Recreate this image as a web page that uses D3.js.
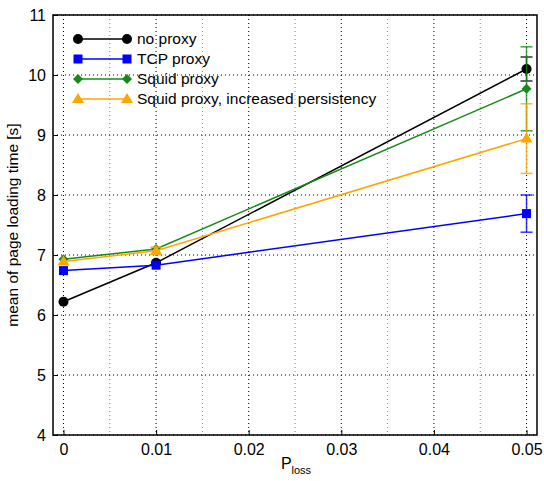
<!DOCTYPE html>
<meta charset="utf-8">
<style>
body { margin: 0; background: #fff; }
text { font-family: "Liberation Sans", Arial, sans-serif; }
.grid line { stroke: #000; stroke-dasharray: 1,3; stroke-width: 1; }
.grid .minor { stroke: #888; }
</style>
<body>
<script src="https://d3js.org/d3.v7.min.js"></script>
<script>
// data
var ploss = [0, 0.01, 0.05];
var seriesNames = ["no proxy", "TCP proxy", "Squid proxy", "Squid proxy, increased persistency"];
var noProxy = [6.22, 6.87, 10.1];
var tcpProxy = [6.74, 6.83, 7.69];
var squidProxy = [6.93, 7.1, 9.77];
var squidPersist = [6.89, 7.07, 8.94];
// error bar half-widths
var noProxyErr = [0, 0, 0.2];
var tcpProxyErr = [0, 0, 0.31];
var squidProxyErr = [0, 0, 0.7];
var squidPersistErr = [0, 0.06, 0.58];
var xTicks = [0, 0.01, 0.02, 0.03, 0.04, 0.05];
var xMinor = [0.005, 0.015, 0.025, 0.035, 0.045];
var yTicks = [4, 5, 6, 7, 8, 9, 10, 11];

var series = [
  {name: seriesNames[0], vals: noProxy, err: noProxyErr, color: "#000000", marker: "circle"},
  {name: seriesNames[1], vals: tcpProxy, err: tcpProxyErr, color: "#0000ff", marker: "square"},
  {name: seriesNames[2], vals: squidProxy, err: squidProxyErr, color: "#168a16", marker: "diamond"},
  {name: seriesNames[3], vals: squidPersist, err: squidPersistErr, color: "#ffa500", marker: "triangle"}
];

var W = 544, H = 481;
var pLeft = 53, pRight = 537, pTop = 15, pBottom = 435;

var x = d3.scaleLinear().domain([-0.00113, 0.05113]).range([pLeft, pRight]);
var y = d3.scaleLinear().domain([4, 11]).range([pBottom, pTop]);

var svg = d3.select("body").append("svg")
    .attr("width", W)
    .attr("height", H);

// grid
var grid = svg.append("g").attr("class", "grid");
grid.selectAll(".vmaj").data(xTicks).enter().append("line")
    .attr("x1", function(d) { return x(d); }).attr("x2", function(d) { return x(d); })
    .attr("y1", pTop).attr("y2", pBottom);
grid.selectAll(".vmin").data(xMinor).enter().append("line")
    .attr("class", "minor")
    .attr("x1", function(d) { return x(d); }).attr("x2", function(d) { return x(d); })
    .attr("y1", pTop).attr("y2", pBottom);
grid.selectAll(".h").data(yTicks).enter().append("line")
    .attr("x1", pLeft).attr("x2", pRight)
    .attr("y1", function(d) { return y(d); }).attr("y2", function(d) { return y(d); });

// axes (ticks inside, MATLAB style)
var xAxis = svg.append("g")
    .attr("transform", "translate(0," + pBottom + ")")
    .call(d3.axisBottom(x).tickValues(xTicks).tickSizeInner(-5).tickSizeOuter(0)
      .tickFormat(function(d) { return d === 0 ? "0" : d3.format(".2f")(d); }));
var yAxis = svg.append("g")
    .attr("transform", "translate(" + pLeft + ",0)")
    .call(d3.axisLeft(y).tickValues(yTicks).tickSizeInner(-5).tickSizeOuter(0)
      .tickFormat(d3.format("d")));
[xAxis, yAxis].forEach(function(a) {
  a.select(".domain").remove();
  a.selectAll("text").attr("font-size", 16).attr("fill", "#000")
    .style("font-family", "Liberation Sans, Arial, sans-serif");
});
xAxis.selectAll("text").attr("dy", "0.71em").attr("y", 9);
yAxis.selectAll("text").attr("x", -7);

// frame
svg.append("rect")
    .attr("x", pLeft).attr("y", pTop)
    .attr("width", pRight - pLeft).attr("height", pBottom - pTop)
    .attr("fill", "none").attr("stroke", "#000").attr("stroke-width", 1.5);

// axis labels
var xl = svg.append("text")
    .attr("x", 296).attr("y", 469)
    .attr("text-anchor", "middle").attr("font-size", 16);
xl.append("tspan").text("P");
xl.append("tspan").attr("font-size", 11).attr("dy", 5).text("loss");

svg.append("text")
    .attr("transform", "translate(18," + ((pTop + pBottom) / 2) + ") rotate(-90)")
    .attr("text-anchor", "middle").attr("font-size", 15.5)
    .text("mean of page loading time [s]");

function drawMarker(g, type, cx, cy, color) {
  if (type === "circle") {
    g.append("circle").attr("cx", cx).attr("cy", cy).attr("r", 5).attr("fill", color);
  } else if (type === "square") {
    g.append("rect").attr("x", cx - 4.5).attr("y", cy - 4.5).attr("width", 9).attr("height", 9).attr("fill", color);
  } else if (type === "diamond") {
    g.append("path").attr("d", "M" + cx + "," + (cy - 5) + "L" + (cx + 5) + "," + cy + "L" + cx + "," + (cy + 5) + "L" + (cx - 5) + "," + cy + "Z").attr("fill", color);
  } else {
    g.append("path").attr("d", "M" + cx + "," + (cy - 6) + "L" + (cx + 6) + "," + (cy + 4) + "L" + (cx - 6) + "," + (cy + 4) + "Z").attr("fill", color);
  }
}

var line = d3.line()
    .x(function(d, i) { return x(ploss[i]); })
    .y(function(d) { return y(d); });

series.forEach(function(s) {
  var g = svg.append("g");
  // error bars
  s.vals.forEach(function(v, i) {
    if (!s.err[i]) return;
    var cx = x(ploss[i]);
    var eb = g.append("g").attr("stroke", s.color).attr("stroke-width", 1.5).attr("opacity", 0.8);
    eb.append("line").attr("x1", cx).attr("x2", cx).attr("y1", y(v - s.err[i])).attr("y2", y(v + s.err[i]));
    [v - s.err[i], v + s.err[i]].forEach(function(e) {
      eb.append("line").attr("x1", cx - 6).attr("x2", cx + 6).attr("y1", y(e)).attr("y2", y(e));
    });
  });
  g.append("path").datum(s.vals)
    .attr("d", line).attr("fill", "none")
    .attr("stroke", s.color).attr("stroke-width", 1.5);
  s.vals.forEach(function(v, i) {
    drawMarker(g, s.marker, x(ploss[i]), y(v), s.color);
  });
});

// legend
var lg = svg.append("g");
series.forEach(function(s, i) {
  var ly = 39 + i * 20;
  lg.append("line").attr("x1", 78).attr("x2", 127).attr("y1", ly).attr("y2", ly)
    .attr("stroke", s.color).attr("stroke-width", 1.5);
  drawMarker(lg, s.marker, 78, ly, s.color);
  drawMarker(lg, s.marker, 127, ly, s.color);
  lg.append("text").attr("x", 137).attr("y", ly + 5).attr("font-size", 15.5).text(s.name);
});
</script>
</body>
